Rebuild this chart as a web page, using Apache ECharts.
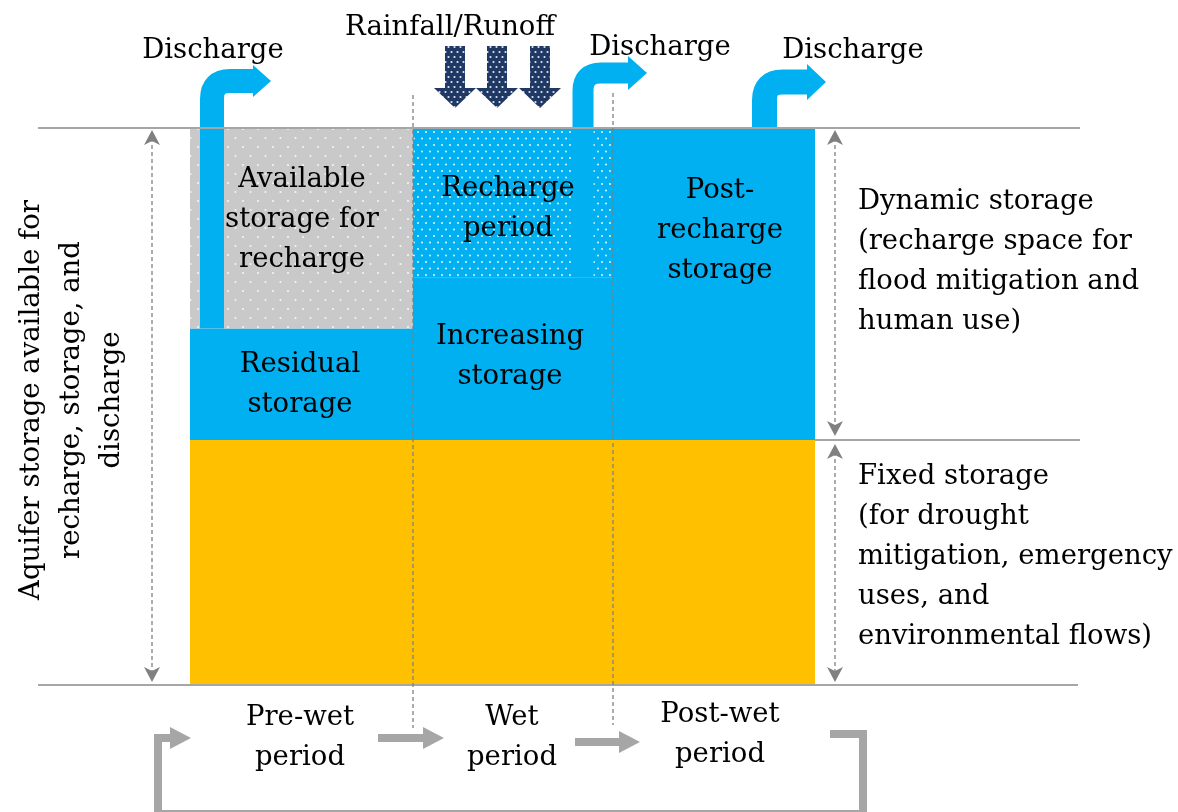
<!DOCTYPE html>
<html>
<head>
<meta charset="utf-8">
<script src="https://cdn.jsdelivr.net/npm/echarts@6/dist/echarts.min.js"></script>
<style>
  html, body { margin: 0; padding: 0; background: #fff; }
  #chart { width: 1178px; height: 812px; }
</style>
</head>
<body>
<div id="chart"></div>
<script>
// periods along the timeline (x units), storage layers in % of aquifer storage
const periods = ['Pre-wet\nperiod', 'Wet\nperiod', 'Post-wet\nperiod'];
const periodEdges = [0, 22.3, 42.3, 62.5];
const fixedStorage = [44, 44, 44];
const blueStorage = [20, 29.2, 56];      // residual / increasing / post-recharge
const rechargeSpace = [0, 26.8, 0];      // dotted blue
const availableSpace = [36, 0, 0];       // dotted grey
// discharge pipes: x position (timeline units) and level they leave from (%)
const dischargeX = [2.2, 39.3, 57.45];
const dischargeLevel = [64, 73.2, 90];

const BLUE = '#00B0F0', YELLOW = '#FFC000', GREY_LINE = '#A6A6A6', DASH = '#808080';
const FONT = 'DejaVu Serif';

// dotted fills made from small tiles
function dotTile(bg, dot, w, h, pts, r) {
  const c = document.createElement('canvas');
  c.width = w; c.height = h;
  const g = c.getContext('2d');
  g.fillStyle = bg; g.fillRect(0, 0, w, h);
  g.fillStyle = dot;
  pts.forEach(p => { g.beginPath(); g.arc(p[0], p[1], r, 0, Math.PI * 2); g.fill(); });
  return { image: c, repeat: 'repeat' };
}
const greyDots = dotTile('#C9C9C9', '#F4F4F4', 15, 18, [[3, 3], [10.5, 12]], 1.1);
const blueDots = dotTile(BLUE, '#E6F7FE', 8, 13, [[2, 2], [6, 8.5]], 1);
const navyDots = dotTile('#1F3864', '#E0E6F2', 6, 10, [[1.5, 2], [4.5, 7]], 1.1);
const fills = [YELLOW, BLUE, blueDots, greyDots];

// stacked blocks [x0, x1, y0, y1, fillIndex]
const blocks = [];
periods.forEach((p, i) => {
  const x0 = periodEdges[i], x1 = periodEdges[i + 1];
  let y = 0;
  [fixedStorage[i], blueStorage[i], rechargeSpace[i], availableSpace[i]].forEach((v, k) => {
    if (v > 0) blocks.push([x0, x1, y, y + v, k]);
    y += v;
  });
});

const chart = echarts.init(document.getElementById('chart'));

function txt(text, x, y, align, extra) {
  return Object.assign({
    type: 'text', x: x, y: y, z: 100,
    style: {
      text: text, fill: '#000', fontFamily: FONT, fontSize: 27.5,
      align: align || 'center', textAlign: align || 'center',
      verticalAlign: 'middle', textVerticalAlign: 'middle', lineHeight: 40
    }
  }, extra || {});
}
function hline(x1, x2, y) {
  return { type: 'line', z: 5, shape: { x1: x1, y1: y, x2: x2, y2: y }, style: { stroke: GREY_LINE, lineWidth: 2 } };
}
function vdash(x, y1, y2) {
  return { type: 'line', z: 20, shape: { x1: x, y1: y1, x2: x, y2: y2 }, style: { stroke: DASH, lineWidth: 1.3, lineDash: [4, 3] } };
}
function head(x, y, dir) { // dir -1 up, 1 down
  return { type: 'polygon', z: 20, shape: { points: [[x, y], [x - 8, y - dir * 15], [x, y - dir * 11], [x + 8, y - dir * 15]] }, style: { fill: DASH } };
}
function dblArrow(x, y1, y2) {
  return [vdash(x, y1 + 8, y2 - 8), head(x, y1, -1), head(x, y2, 1)];
}
function rain(cx) {
  return { type: 'polygon', z: 30, shape: { points: [[cx - 10, 46], [cx + 10, 46], [cx + 10, 88], [cx + 21, 88], [cx, 108], [cx - 21, 88], [cx - 10, 88]] }, style: { fill: navyDots } };
}
function greyArrow(points, tipX, y) {
  return [
    { type: 'polyline', z: 10, shape: { points: points }, style: { stroke: GREY_LINE, lineWidth: 8, fill: null, lineJoin: 'miter' } },
    { type: 'polygon', z: 10, shape: { points: [[tipX - 21, y - 11], [tipX, y], [tipX - 21, y + 11]] }, style: { fill: GREY_LINE } }
  ];
}

// pipe geometry in pixels above the box: [pipe width, centre line y, head base x, tip x, head half height]
const pipeGeom = [[24, 81, 253, 271, 16], [21, 73, 628, 647, 17], [25, 82, 807, 826, 18]];

chart.setOption({
  animation: false,
  grid: { left: 0, right: 0, top: 0, bottom: 0 },
  xAxis: { type: 'value', min: -19, max: 98.8, show: false },
  yAxis: { type: 'value', min: -22.8, max: 122.98, show: false },
  series: [
    {
      type: 'custom',
      data: blocks,
      encode: { x: [0, 1], y: [2, 3] },
      z: 2,
      renderItem: function (params, api) {
        const a = api.coord([api.value(0), api.value(3)]);
        const b = api.coord([api.value(1), api.value(2)]);
        return {
          type: 'rect',
          shape: { x: a[0], y: a[1], width: b[0] - a[0], height: b[1] - a[1] },
          style: { fill: fills[api.value(4)] }
        };
      }
    },
    {
      type: 'custom',
      data: dischargeX.map((x, i) => [x, dischargeLevel[i]]),
      z: 3,
      renderItem: function (params, api) {
        const g = pipeGeom[params.dataIndex];
        const p = api.coord([api.value(0), api.value(1)]);
        const w = g[0], cx = p[0], top = g[1], r = 18;
        return {
          type: 'group',
          children: [
            {
              type: 'path',
              shape: { pathData: 'M' + cx + ',' + p[1] + 'L' + cx + ',' + (top + r) + 'Q' + cx + ',' + top + ' ' + (cx + r) + ',' + top + 'L' + (g[2] + 1) + ',' + top },
              style: { stroke: BLUE, lineWidth: w, fill: null }
            },
            {
              type: 'polygon',
              shape: { points: [[g[2], top - g[4]], [g[3], top], [g[2], top + g[4]]] },
              style: { fill: BLUE }
            }
          ]
        };
      }
    }
  ],
  graphic: [
    hline(38, 1080, 128),
    hline(815, 1080, 440),
    hline(38, 1078, 685),
    vdash(413, 95, 728),
    vdash(613, 93, 725),
    ...dblArrow(152, 130, 682),
    ...dblArrow(835, 130, 436),
    ...dblArrow(835, 444, 682),
    rain(455), rain(497), rain(540),
    ...greyArrow([[378, 738], [424, 738]], 444, 738),
    ...greyArrow([[575, 742], [620, 742]], 640, 742),
    ...greyArrow([[830, 734], [863, 734], [863, 814], [158, 814], [158, 738], [172, 738]], 191, 738),
    txt('Discharge', 213, 51),
    txt('Discharge', 660, 48),
    txt('Discharge', 853, 51),
    txt('Rainfall/Runoff', 450, 28),
    txt('Available\nstorage for\nrecharge', 302, 220),
    txt('Residual\nstorage', 300, 385),
    txt('Recharge\nperiod', 508, 209),
    txt('Increasing\nstorage', 510, 357),
    txt('Post-\nrecharge\nstorage', 720, 231),
    txt('Dynamic storage\n(recharge space for\nflood mitigation and\nhuman use)', 858, 262, 'left'),
    txt('Fixed storage\n(for drought\nmitigation, emergency\nuses, and\nenvironmental flows)', 858, 557, 'left'),
    txt(periods[0], 300, 738),
    txt(periods[1], 512, 738),
    txt(periods[2], 720, 735),
    txt('Aquifer storage available for\nrecharge, storage, and\ndischarge', 72, 400, 'center', { rotation: Math.PI / 2 })
  ]
});
</script>
</body>
</html>
